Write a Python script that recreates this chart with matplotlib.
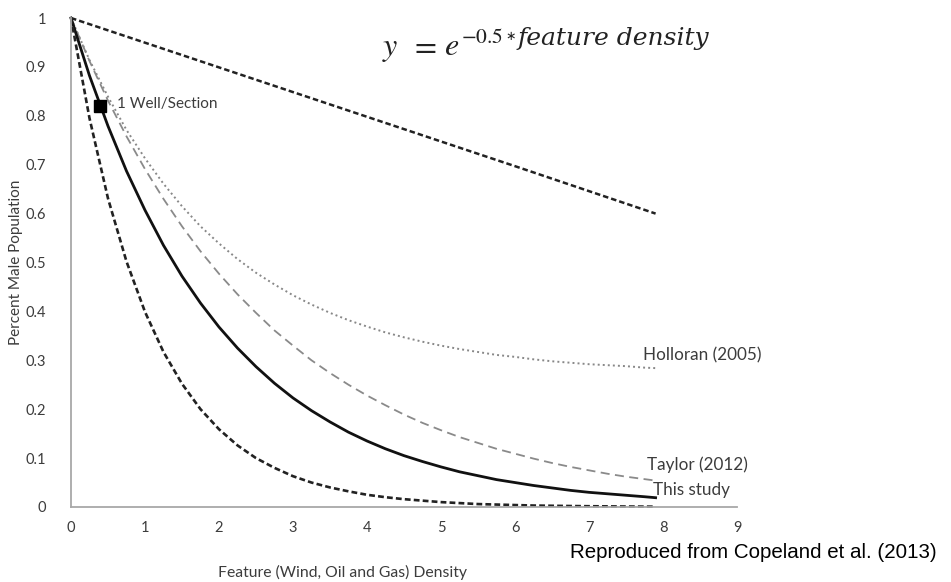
import numpy as np
import matplotlib
matplotlib.use('Agg')
import matplotlib.pyplot as plt

# feature density grid
density = [0, 0.25, 0.5, 0.75, 1, 1.25, 1.5, 1.75, 2, 2.25, 2.5, 2.75, 3, 3.25, 3.5, 3.75,
           4, 4.25, 4.5, 4.75, 5, 5.25, 5.5, 5.75, 6, 6.25, 6.5, 6.75, 7, 7.25, 7.5, 7.75, 7.9]

upper_x = [0, 2, 4, 6, 7.9]
upper_line = [1.0, 0.899, 0.798, 0.697, 0.60]

this_study = [1.000, 0.882, 0.779, 0.687, 0.607, 0.535, 0.472, 0.417, 0.368, 0.325, 0.287,
              0.253, 0.223, 0.197, 0.174, 0.153, 0.135, 0.119, 0.105, 0.093, 0.082, 0.072,
              0.064, 0.056, 0.050, 0.044, 0.039, 0.034, 0.030, 0.027, 0.024, 0.021, 0.019]
lower_line = [1.000, 0.795, 0.631, 0.502, 0.399, 0.317, 0.252, 0.200, 0.159, 0.126, 0.100,
              0.080, 0.063, 0.050, 0.040, 0.032, 0.025, 0.020, 0.016, 0.013, 0.010, 0.008,
              0.006, 0.005, 0.004, 0.003, 0.0025, 0.002, 0.0016, 0.0013, 0.001, 0.0008, 0.0007]
taylor = [1.000, 0.912, 0.831, 0.758, 0.691, 0.630, 0.574, 0.523, 0.477, 0.435, 0.397,
          0.361, 0.330, 0.300, 0.274, 0.250, 0.228, 0.208, 0.189, 0.172, 0.157, 0.143,
          0.131, 0.119, 0.109, 0.099, 0.090, 0.082, 0.075, 0.068, 0.062, 0.057, 0.054]
holloran = [1.000, 0.914, 0.839, 0.771, 0.713, 0.661, 0.615, 0.574, 0.539, 0.507, 0.479,
            0.455, 0.433, 0.414, 0.397, 0.382, 0.369, 0.357, 0.347, 0.338, 0.330, 0.323,
            0.317, 0.311, 0.307, 0.302, 0.298, 0.295, 0.292, 0.290, 0.288, 0.285, 0.284]

well_x, well_y = 0.39, 0.82
xticks = list(range(0, 10))
yticks = [0, 0.1, 0.2, 0.3, 0.4, 0.5, 0.6, 0.7, 0.8, 0.9, 1]
ytick_labels = ['0', '0.1', '0.2', '0.3', '0.4', '0.5', '0.6', '0.7', '0.8', '0.9', '1']

plt.rcParams['font.family'] = ['Lato', 'DejaVu Sans']
plt.rcParams['mathtext.fontset'] = 'stix'

txt_col = '#3c3c3c'
eq_col = '#222222'

fig = plt.figure(figsize=(9.51, 5.82), dpi=100)
ax = fig.add_axes([71 / 951, 75 / 582, 666 / 951, 489 / 582])

ax.plot(upper_x, upper_line, color='#222222', lw=1.8, ls=(0, (2.2, 1.2)), clip_on=False)
ax.plot(density, holloran, color='#888888', lw=1.4, ls=(0, (1, 1.6)), clip_on=False)
ax.plot(density, taylor, color='#8a8a8a', lw=1.3, ls=(0, (5, 3)), clip_on=False)
ax.plot(density, this_study, color='#111111', lw=2.0, clip_on=False)
ax.plot(density, lower_line, color='#222222', lw=1.9, ls=(0, (2.2, 1.2)), clip_on=False)
ax.plot([well_x], [well_y], marker='s', ms=9, color='black', clip_on=False)

ax.set_xlim(0, 9)
ax.set_ylim(0, 1)
ax.set_xticks(xticks)
ax.set_yticks(yticks)
ax.set_yticklabels(ytick_labels)
ax.tick_params(length=0, labelsize=10.5, colors=txt_col)
ax.tick_params(axis='x', pad=10)
ax.tick_params(axis='y', pad=18)
for s in ['top', 'right']:
    ax.spines[s].set_visible(False)
for s in ['left', 'bottom']:
    ax.spines[s].set_color('#a8a8a8')
    ax.spines[s].set_linewidth(1.3)

ax.set_ylabel('Percent Male Population', fontsize=11, color=txt_col)
ax.yaxis.set_label_coords(-0.072, 0.5)

ax.text(0.62, 0.824, '1 Well/Section', fontsize=11, color=txt_col, va='center')
ax.text(7.73, 0.31, 'Holloran (2005)', fontsize=12.3, color=txt_col, va='center')
ax.text(7.78, 0.086, 'Taylor (2012)', fontsize=12.3, color=txt_col, va='center')
ax.text(7.87, 0.035, 'This study', fontsize=12.3, color=txt_col, va='center')

# equation, built from pieces so the exponent can be sized like the original
def eq_piece(px, py, s, **kw):
    fig.text(px / 951, 1 - py / 582, s, color=eq_col, ha='left', va='baseline', **kw)

eq_piece(382, 55, r'$y$', fontsize=23)
eq_piece(410, 55, r'$=$', fontsize=23)
eq_piece(444, 55, r'$e$', fontsize=23)
eq_piece(461, 43, r'$-0.5$', fontsize=15.5)
fig.text(511 / 951, 1 - 37 / 582, '\u2217', color=eq_col, fontsize=9,
         family='DejaVu Sans', ha='center', va='center')
eq_piece(518, 45, 'feature density', fontsize=18, family='DejaVu Serif', style='italic')

fig.text(343 / 951, 1 - 572 / 582, 'Feature (Wind, Oil and Gas) Density',
         fontsize=11.3, color=txt_col, ha='center', va='center')
fig.text(937 / 951, 1 - 552 / 582, 'Reproduced from Copeland et al. (2013)',
         fontsize=14.8, family='Liberation Sans', color='black', ha='right', va='center')

fig.savefig('out.png', dpi=100)
